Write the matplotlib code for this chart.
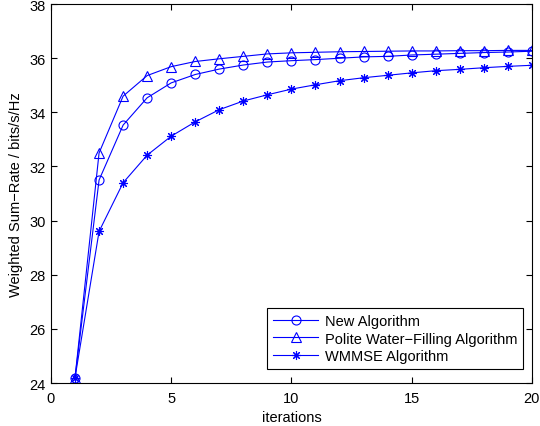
import numpy as np
import matplotlib
matplotlib.use("Agg")
import matplotlib.pyplot as plt

plt.rcParams['font.family'] = ['Liberation Sans', 'DejaVu Sans']

iterations = np.arange(1, 21)

# weighted sum-rate per iteration for each scheme
new_alg = [24.2, 31.5, 33.53, 34.54, 35.09, 35.40, 35.60, 35.75, 35.86, 35.91,
           35.95, 36.00, 36.05, 36.07, 36.12, 36.15, 36.18, 36.21, 36.23, 36.26]
polite_wf = [24.2, 32.5, 34.6, 35.36, 35.69, 35.88, 35.98, 36.07, 36.16, 36.20,
             36.22, 36.24, 36.25, 36.26, 36.27, 36.27, 36.28, 36.28, 36.29, 36.29]
wmmse = [24.2, 29.6, 31.4, 32.42, 33.12, 33.65, 34.10, 34.42, 34.65, 34.86,
         35.02, 35.17, 35.28, 35.37, 35.46, 35.54, 35.59, 35.65, 35.70, 35.74]

fig = plt.figure(figsize=(5.4, 4.27), dpi=100)
ax = fig.add_axes([0.0944, 0.1007, 0.8906, 0.8873])

blue = '#0000ff'
ax.plot(iterations, new_alg, color=blue, lw=0.8, marker='o', ms=6.5,
        mfc='none', mew=0.8, label='New Algorithm')
ax.plot(iterations, polite_wf, color=blue, lw=0.8, marker='^', ms=7,
        mfc='none', mew=0.8, label='Polite Water\u2212Filling Algorithm')
# asterisk marker: 8 spokes
ax.plot(iterations, wmmse, color=blue, lw=0.8, marker=(8, 2, 0), ms=6.5,
        mfc='none', mew=0.8, label='WMMSE Algorithm')

ax.set_xlim(0, 20)
ax.set_ylim(24, 38)
ax.set_xticks([0, 5, 10, 15, 20])
ax.set_yticks(np.arange(24, 39, 2))
ax.tick_params(direction='in', top=True, right=True, length=4, width=0.8,
               labelsize=10.5)
ax.tick_params(axis='x', pad=6)
ax.tick_params(axis='y', pad=4)
for s in ax.spines.values():
    s.set_linewidth(0.8)

ax.set_xlabel('iterations', fontsize=10.5, labelpad=3)
ax.set_ylabel('Weighted Sum\u2212Rate / bits/s/Hz', fontsize=10.5, labelpad=4)

leg = ax.legend(loc='lower right', bbox_to_anchor=(0.982, 0.037),
                borderaxespad=0, fancybox=False, edgecolor='black',
                framealpha=1, fontsize=10.5, handlelength=3.1,
                handletextpad=0.45, borderpad=0.4, labelspacing=0.25)
leg.get_frame().set_linewidth(0.8)

fig.savefig('out.png', dpi=100)
